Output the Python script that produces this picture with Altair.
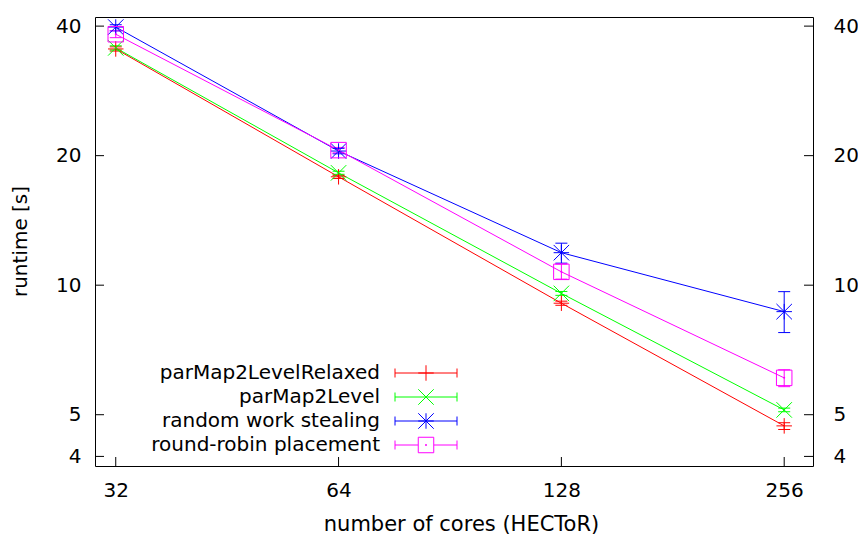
import altair as alt
import pandas as pd

# ---- data ----
cores = [32, 64, 128, 256]
names = ["parMap2LevelRelaxed", "parMap2Level", "random work stealing", "round-robin placement"]
colors = ["#ff0000", "#00ff00", "#0000ff", "#ff00ff"]

relaxed = [35.4, 17.86, 9.08, 4.71]
relaxed_lo = [35.0, 17.7, 8.98, 4.62]
relaxed_hi = [35.8, 18.0, 9.18, 4.79]

level = [35.6, 18.24, 9.57, 5.13]
level_lo = [35.2, 18.1, 9.47, 5.08]
level_hi = [36.0, 18.4, 9.67, 5.18]

stealing = [39.8, 20.5, 11.9, 8.68]
stealing_lo = [39.0, 20.2, 11.25, 7.76]
stealing_hi = [40.3, 20.8, 12.52, 9.66]

robin = [38.3, 20.6, 10.74, 6.09]
robin_lo = [37.6, 20.3, 10.33, 5.81]
robin_hi = [39.0, 20.9, 11.2, 6.36]

x_ticks = [32, 64, 128, 256]
y_ticks = [4, 5, 10, 20, 40]

# ---- build table ----
rows = []
for name, v, lo, hi in [
    (names[0], relaxed, relaxed_lo, relaxed_hi),
    (names[1], level, level_lo, level_hi),
    (names[2], stealing, stealing_lo, stealing_hi),
    (names[3], robin, robin_lo, robin_hi),
]:
    for c, a, b, d in zip(cores, v, lo, hi):
        rows.append({"series": name, "cores": c, "runtime": a, "lo": b, "hi": d})
df = pd.DataFrame(rows)

W, H = 718, 449
FONT = "DejaVu Sans"

plus = "M-1,0L1,0M0,-1L0,1"
cross = "M-1,-1L1,1M-1,1L1,-1"
star = "M-1,0L1,0M0,-1L0,1M-1,-1L1,1M-1,1L1,-1"
square = "M-1,-1L1,-1L1,1L-1,1Z"
hline = "M-1,0L1,0"
shapes = [plus, cross, star, square]

xscale = alt.Scale(type="log", base=2, domain=[30, 280], nice=False)
yscale = alt.Scale(type="log", base=10, domain=[3.8, 42], nice=False)

color = alt.Color("series:N", scale=alt.Scale(domain=names, range=colors), legend=None)
X = alt.X("cores:Q", scale=xscale, axis=None)

base = alt.Chart(df)

lines = base.mark_line(strokeWidth=1).encode(
    x=X, y=alt.Y("runtime:Q", scale=yscale, axis=None), color=color, detail="series:N"
)
errs = base.mark_rule(strokeWidth=1).encode(
    x=X, y=alt.Y("lo:Q", scale=yscale, axis=None), y2="hi:Q", color=color
)
caps_lo = base.mark_point(shape=hline, size=144, filled=False, strokeWidth=1, opacity=1).encode(
    x=X, y=alt.Y("lo:Q", scale=yscale, axis=None), color=color
)
caps_hi = base.mark_point(shape=hline, size=144, filled=False, strokeWidth=1, opacity=1).encode(
    x=X, y=alt.Y("hi:Q", scale=yscale, axis=None), color=color
)
points = base.mark_point(filled=False, size=240, strokeWidth=1, opacity=1).encode(
    x=X,
    y=alt.Y("runtime:Q", scale=yscale, axis=None),
    color=color,
    shape=alt.Shape("series:N", scale=alt.Scale(domain=names, range=shapes), legend=None),
)
dots = base.transform_filter(alt.datum.series == names[3]).mark_point(
    shape="circle", filled=True, size=4, opacity=1, color=colors[3]
).encode(x=X, y=alt.Y("runtime:Q", scale=yscale, axis=None))

# ---- axes with inward ticks ----
xt = pd.DataFrame({"v": x_ticks})
yt = pd.DataFrame({"v": y_ticks})

x_tick_layer = alt.Chart(xt).mark_rule(color="black", strokeWidth=1).encode(
    x=alt.X(
        "v:Q",
        scale=xscale,
        axis=alt.Axis(
            orient="bottom", values=x_ticks, ticks=False, tickSize=0, domain=False, grid=False,
            labelPadding=14, labelAngle=0, labelFlush=False, format="d",
            title="number of cores (HECToR)", titleX=366, titleY=58, titleFontSize=21,
            titleBaseline="middle", titleAlign="center",
        ),
    ),
    y=alt.value(H),
    y2=alt.value(H - 9),
)

y_left = alt.Chart(yt).mark_rule(color="black", strokeWidth=1).encode(
    y=alt.Y(
        "v:Q",
        scale=yscale,
        axis=alt.Axis(
            orient="left", values=y_ticks, ticks=False, tickSize=0, domain=False, grid=False,
            labelPadding=14, labelFlush=False, format="d",
            title="runtime [s]", titleX=-75, titleY=224, titleAngle=-90,
            titleBaseline="middle", titleAlign="center",
        ),
    ),
    x=alt.value(0),
    x2=alt.value(9),
)

y_right = alt.Chart(yt).mark_rule(color="black", strokeWidth=1).encode(
    y=alt.Y(
        "v:Q",
        scale=yscale,
        axis=alt.Axis(
            orient="right", values=y_ticks, ticks=False, tickSize=0, domain=False, grid=False,
            labelPadding=20, labelFlush=False, format="d", title="",
        ),
    ),
    x=alt.value(W - 9),
    x2=alt.value(W),
)

# ---- legend (manual, gnuplot style) ----
one = pd.DataFrame({"a": [0]})
legend_layers = []
row_y = [356, 380, 404, 428]
for i, name in enumerate(names):
    yy = row_y[i]
    c = colors[i]
    legend_layers.append(
        alt.Chart(one).mark_text(
            align="right", baseline="middle", font=FONT, fontSize=20, color="black", text=name
        ).encode(x=alt.value(285), y=alt.value(yy))
    )
    if i == 3:
        segs = [(300, 323), (339, 362)]
    else:
        segs = [(300, 362)]
    for a, b in segs:
        legend_layers.append(
            alt.Chart(one).mark_rule(color=c, strokeWidth=1).encode(
                x=alt.value(a), x2=alt.value(b), y=alt.value(yy)
            )
        )
    for xx in (300, 362):
        legend_layers.append(
            alt.Chart(one).mark_rule(color=c, strokeWidth=1).encode(
                x=alt.value(xx), y=alt.value(yy - 4.5), y2=alt.value(yy + 4.5)
            )
        )
    legend_layers.append(
        alt.Chart(one).mark_point(
            shape=shapes[i], size=240, filled=False, strokeWidth=1, opacity=1, color=c
        ).encode(x=alt.value(331), y=alt.value(yy))
    )
    if i == 3:
        legend_layers.append(
            alt.Chart(one).mark_point(
                shape="circle", size=4, filled=True, opacity=1, color=c
            ).encode(x=alt.value(331), y=alt.value(yy))
        )

chart = (
    alt.layer(
        x_tick_layer, y_left, y_right,
        lines, errs, caps_lo, caps_hi, points, dots,
        *legend_layers,
    )
    .resolve_axis(x="independent", y="independent")
    .properties(
        width=W,
        height=H,
        autosize=alt.AutoSizeParams(type="none"),
        padding={"left": 87, "top": 9, "right": 45, "bottom": 72},
    )
    .configure_view(stroke="black", strokeWidth=1)
    .configure_axis(
        labelFont=FONT, labelFontSize=20, labelColor="black",
        titleFont=FONT, titleFontSize=20, titleColor="black", titleFontWeight="normal",
    )
)

chart.save("out.html", embed_options={"renderer": "svg", "actions": False})
